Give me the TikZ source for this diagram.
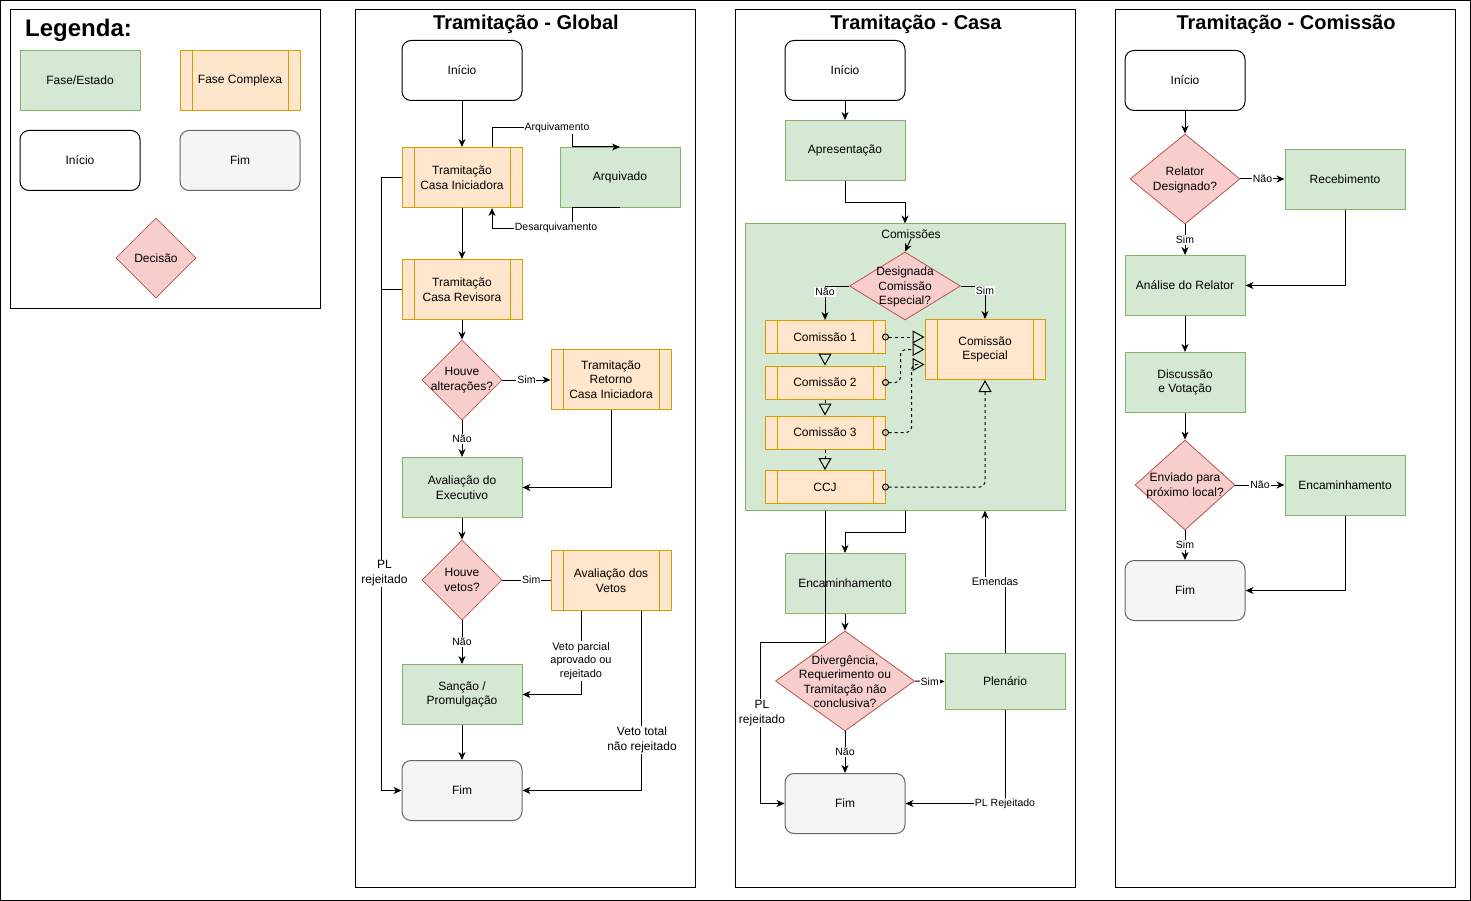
\documentclass[tikz,border=0pt]{standalone}
\usepackage{fontspec}
\setmainfont{Liberation Sans}
\usetikzlibrary{arrows.meta,shapes.geometric,calc}
\definecolor{gfill}{HTML}{D5E8D4}
\definecolor{gdraw}{HTML}{82B366}
\definecolor{ofill}{HTML}{FFE6CC}
\definecolor{odraw}{HTML}{D79B00}
\definecolor{rfill}{HTML}{F8CECC}
\definecolor{rdraw}{HTML}{B85450}
\definecolor{fimfill}{HTML}{F5F5F5}
\definecolor{fimdraw}{HTML}{666666}
\tikzset{
  txt/.style={font=\fontsize{12}{14.5}\selectfont, align=center, inner sep=0pt},
  base/.style={txt, line width=1pt, minimum width=120pt, minimum height=60pt},
  fase/.style={base, draw=gdraw, fill=gfill},
  complexa/.style={base, draw=odraw, fill=ofill,
    path picture={\draw[odraw, line width=1pt]
      ([xshift=12pt]path picture bounding box.north west) -- ([xshift=12pt]path picture bounding box.south west)
      ([xshift=-12pt]path picture bounding box.north east) -- ([xshift=-12pt]path picture bounding box.south east);}},
  inicio/.style={base, draw=black, fill=white, rounded corners=9pt},
  fimbox/.style={base, draw=fimdraw, fill=fimfill, rounded corners=9pt},
  decisao/.style={diamond, draw=rdraw, fill=rfill, line width=0.8pt, inner sep=0pt, minimum width=80pt, minimum height=80pt},
  panel/.style={draw=black, line width=1pt},
  titulo/.style={font=\bfseries\fontsize{20}{24}\selectfont, inner sep=0pt},
  ln/.style={line width=1pt},
  arr/.style={line width=1pt, -{Stealth[length=8pt,width=7pt,inset=2.5pt]}},
  lbl/.style={font=\fontsize{10.5}{13}\selectfont, fill=white, inner sep=1pt, align=center},
  lblm/.style={font=\fontsize{11}{13.5}\selectfont, fill=white, inner sep=1pt, align=center},
  lblg/.style={font=\fontsize{12}{15}\selectfont, fill=white, inner sep=1pt, align=center},
  dsh/.style={line width=1pt, dash pattern=on 3pt off 3pt, -{Triangle[open,length=12pt,width=13pt,line width=1pt]}},
  dshc/.style={line width=1pt, dash pattern=on 3pt off 3pt, rounded corners=5pt, shorten <=-3.5pt,
    {Circle[open,length=7pt,line width=1pt]}-{Triangle[open,length=12pt,width=13pt,line width=1pt]}},
}
\begin{document}
\begin{tikzpicture}[x=1pt,y=-1pt]
\useasboundingbox (0,0) rectangle (1471,901);
\fill[white] (0,0) rectangle (1471,901);
\draw[line width=1pt] (0.5,0.5) rectangle (1470,900);

% ---------------- Legend ----------------
\draw[panel] (10,10) rectangle (320,308);
\node[font=\bfseries\fontsize{24}{28}\selectfont, inner sep=0pt, anchor=west] (legT) at (25,30) {Legenda:};
\node[fase] (lF) at (80,80.5) {Fase/Estado};
\node[complexa] (lC) at (240,80.5) {Fase Complexa};
\node[inicio] (lI) at (80,160.5) {Início};
\node[fimbox] (lFim) at (240,160.5) {Fim};
\node[decisao] (lD) at (156,258) {};
\node[txt] (lDt) at (lD) {Decisão};

% ---------------- Global ----------------
\draw[panel] (355,10) rectangle (695,887);
\node[titulo] (tG) at (526,24) {Tramitação - Global};
\node[inicio] (gIni) at (462,70.5) {Início};
\node[complexa] (gTCI) at (462,177.5) {Tramitação\\Casa Iniciadora};
\node[fase] (gArq) at (620,177.5) {Arquivado};
\node[complexa] (gTCR) at (462,289.5) {Tramitação\\Casa Revisora};
\node[decisao] (gD1) at (462,380) {};
\node[txt] (gD1t) at (gD1) {Houve\\alterações?};
\node[complexa] (gRet) at (611,379.5) {Tramitação\\Retorno\\Casa Iniciadora};
\node[fase] (gAE) at (462,487.5) {Avaliação do\\Executivo};
\node[decisao] (gD2) at (462,580) {};
\node[txt] (gD2t) at (gD2) {Houve\\vetos?};
\node[complexa] (gAV) at (611,580.5) {Avaliação dos\\Vetos};
\node[fase] (gSP) at (462,694.5) {Sanção /\\Promulgação};
\node[fimbox] (gFim) at (462,790.5) {Fim};

\draw[arr] (gIni) -- (gTCI);
\draw[arr] ([xshift=30pt]gTCI.north) -- ++(0,-19) -- ++(80,0) -- ++(0,19) -- (gArq.north);
\node[lbl] (gArqL) at (557,128) {Arquivamento};
\draw[arr] (gArq.south) -- ++(-48,0) -- ++(0,21) -| ([xshift=30pt]gTCI.south);
\node[lbl] (gDesL) at (556,228) {Desarquivamento};
\draw[arr] (gTCI) -- (gTCR);
\draw[arr] (gTCR) -- (gD1);
\draw[arr] (gD1.east) -- node[lbl]{Sim} (gD1.east -| gRet.west);
\draw[arr] (gD1) -- node[lbl]{Não} (gAE);
\draw[arr] (gRet.south) |- (gAE.east);
\draw[arr] (gAE) -- (gD2);
\draw[ln] (gD2.east) -- node[lbl,pos=0.6]{Sim} (gD2.east -| gAV.west);
\draw[arr] (gD2) -- node[lbl]{Não} (gSP);
\draw[arr] ([xshift=-30pt]gAV.south) |- node[lblm,pos=0.3]{Veto parcial\\aprovado ou\\rejeitado} (gSP.east);
\draw[arr] ([xshift=30pt]gAV.south) |- node[lblg,pos=0.36,xshift=1pt]{Veto total\\não rejeitado} (gFim.east);
\draw[arr] (gSP) -- (gFim);
\draw[arr] (gTCI.west) -- ++(-20,0) |- node[lblg,pos=0.323,xshift=3pt]{PL\\rejeitado} (gFim.west);
\draw[ln] (gTCR.west) -- ++(-20,0);

% ---------------- Casa ----------------
\draw[panel] (735,10) rectangle (1075,887);
\node[titulo] (tC) at (916,24) {Tramitação - Casa};
\node[inicio] (cIni) at (845,70.5) {Início};
\node[fase] (cApr) at (845,150.5) {Apresentação};
\node[draw=gdraw, fill=gfill, line width=1pt, inner sep=0pt, minimum width=320pt, minimum height=286pt] (cCom) at (905,367) {};
\node[txt] (cComL) at (911,234) {Comissões};
\node[decisao, minimum width=111pt, minimum height=68pt] (cD1) at (905,286) {};
\node[txt] (cD1t) at (905,287) {Designada\\Comissão\\Especial?};
\node[complexa, minimum height=33pt] (cC1) at (825,337) {Comissão 1};
\node[complexa, minimum height=33pt] (cC2) at (825,382.5) {Comissão 2};
\node[complexa, minimum height=33pt] (cC3) at (825,432.5) {Comissão 3};
\node[complexa, minimum height=33pt] (cCCJ) at (825,487) {CCJ};
\node[complexa] (cCE) at (985,349.5) {Comissão\\Especial};
\node[fase] (cEnc) at (845,583.5) {Encaminhamento};
\node[decisao, minimum width=139pt, minimum height=100pt] (cD2) at (845,681) {};
\node[txt] (cD2t) at (845,681.5) {Divergência,\\Requerimento ou\\Tramitação não\\conclusiva?};
\node[fase, minimum height=56pt] (cPle) at (1005,681.5) {Plenário};
\node[fimbox] (cFim) at (845,803.5) {Fim};

\draw[arr] (cIni) -- (cApr);
\draw[arr] (cApr.south) -- ++(0,22) -| (cCom.north);
\draw[arr] (cComL.south) -- (cD1.north);
\draw[arr] (cD1.west) -| node[lbl,pos=0.59]{Não} (cC1.north);
\draw[arr] (cD1.east) -| node[lbl,pos=0.57]{Sim} (cCE.north);
\draw[dsh] (cC1) -- (cC2);
\draw[dsh] (cC2) -- (cC3);
\draw[dsh] (cC3) -- (cCCJ);
\draw[dshc] (cC1.east) -- (cC1.east -| cCE.west);
\draw[dshc] (cC2.east) -- ++(15,0) |- (cCE.west);
\draw[dshc] (cC3.east) -- ++(26,0) |- ([yshift=-15pt]cCE.west);
\draw[dshc] (cCCJ.east) -| (cCE.south);
\draw[arr] (cCom.south) -- ++(0,22) -| (cEnc.north);
\draw[arr] (cEnc) -- (cD2);
\draw[arr] (cD2.east) -- node[lbl]{Sim} (cPle.west);
\draw[arr] (cD2) -- node[lbl]{Não} (cFim);
\draw[arr] (cPle.north) -- ++(0,-71) -| node[lblm,pos=0.25]{Emendas} ([xshift=80pt]cCom.south);
\draw[arr] (cPle.south) |- node[lbl,pos=0.5]{PL Rejeitado} (cFim.east);
\draw[arr] ([xshift=-80pt]cCom.south) -- ++(0,132) -- ++(-65,0) |- node[lblg,pos=0.22,xshift=2pt]{PL\\rejeitado} (cFim.west);

% ---------------- Comissão ----------------
\draw[panel] (1115,10) rectangle (1455,887);
\node[titulo] (tM) at (1286,24) {Tramitação - Comissão};
\node[inicio] (mIni) at (1185,80.5) {Início};
\node[decisao, minimum width=110pt, minimum height=90pt] (mD1) at (1185,179) {};
\node[txt] (mD1t) at (1185,180) {Relator\\Designado?};
\node[fase] (mRec) at (1345,179.5) {Recebimento};
\node[fase] (mAna) at (1185,285.5) {Análise do Relator};
\node[fase] (mDis) at (1185,382.5) {Discussão\\e Votação};
\node[decisao, minimum width=100pt, minimum height=90pt] (mD2) at (1185,485) {};
\node[txt] (mD2t) at (1185,486) {Enviado para\\próximo local?};
\node[fase] (mEnc) at (1345,485.5) {Encaminhamento};
\node[fimbox] (mFim) at (1185,590.5) {Fim};

\draw[arr] (mIni) -- (mD1);
\draw[arr] (mD1) -- node[lbl]{Não} (mD1 -| mRec.west);
\draw[arr] (mD1) -- node[lbl]{Sim} (mAna);
\draw[arr] (mRec.south) |- (mAna.east);
\draw[arr] (mAna) -- (mDis);
\draw[arr] (mDis) -- (mD2);
\draw[arr] (mD2) -- node[lbl]{Não} (mD2 -| mEnc.west);
\draw[arr] (mD2) -- node[lbl]{Sim} (mFim);
\draw[arr] (mEnc.south) |- (mFim.east);
\end{tikzpicture}
\end{document}
